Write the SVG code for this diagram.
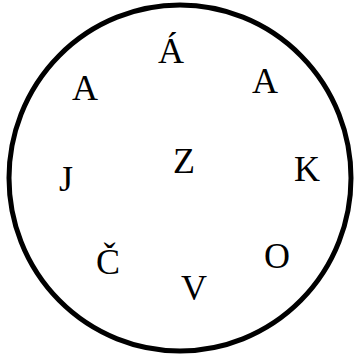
<svg xmlns="http://www.w3.org/2000/svg" width="356" height="358" viewBox="0 0 356 358">
<style>
.l{font-family:"Liberation Serif","Times New Roman",serif;font-size:36px;fill:#000;text-anchor:middle}
</style>
<rect width="356" height="358" fill="#fff"/>
<g id="circle"><ellipse cx="180" cy="178" rx="171" ry="173" fill="none" stroke="#000" stroke-width="5"/></g>
<g id="n1"><text class="l" x="171" y="63">Á</text></g>
<g id="n2"><text class="l" x="85" y="100">A</text></g>
<g id="n3"><text class="l" x="265" y="93">A</text></g>
<g id="n4"><text class="l" x="66" y="191">J</text></g>
<g id="n5"><text class="l" x="184" y="173">Z</text></g>
<g id="n6"><text class="l" x="307" y="181">K</text></g>
<g id="n7"><text class="l" x="108" y="274">Č</text></g>
<g id="n8"><text class="l" x="194" y="300">V</text></g>
<g id="n9"><text class="l" x="277" y="268">O</text></g>
</svg>
